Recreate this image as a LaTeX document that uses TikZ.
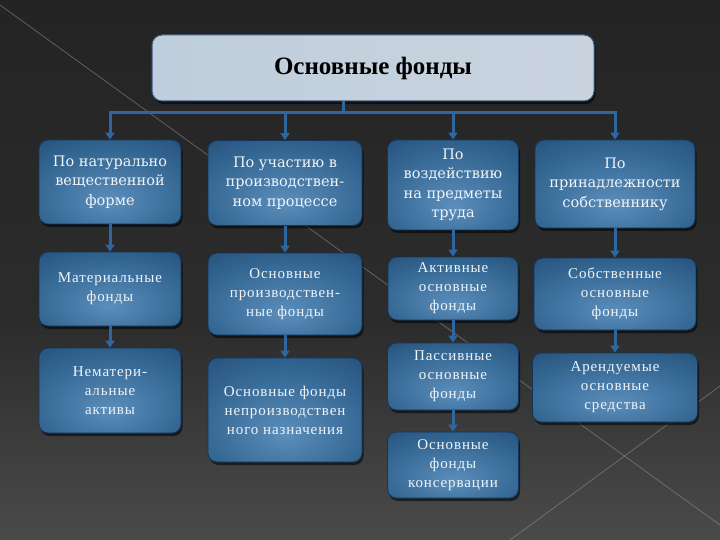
\documentclass[tikz,border=0pt]{standalone}
\usepackage{fontspec}
\setmainfont{Liberation Serif}
\newfontfamily\headfont{DejaVu Serif}
\newfontfamily\lightfont[LetterSpace=6]{Liberation Serif}
\usetikzlibrary{arrows.meta,shadows}
\definecolor{bgtop}{HTML}{1D1D1D}
\definecolor{bgmid}{HTML}{2C2C2C}
\definecolor{bgbot}{HTML}{707070}
\definecolor{boxin}{HTML}{5B8EBB}
\definecolor{boxmid}{HTML}{336591}
\definecolor{boxout}{HTML}{1B416A}
\definecolor{boxedge}{HTML}{14355A}
\definecolor{conn}{HTML}{2E67A0}
\definecolor{txt}{HTML}{F0F4F8}
\definecolor{topl}{HTML}{BFCEDC}
\definecolor{topm}{HTML}{F0F3F7}
\definecolor{topr}{HTML}{C9D4DF}
\definecolor{topedge}{HTML}{3A5C80}
\definecolor{lineg}{HTML}{9A9A9A}
\pgfdeclareverticalshading{bgsh}{100bp}{color(0bp)=(bgbot); color(45bp)=(bgmid); color(100bp)=(bgtop)}
\pgfdeclareradialshading{boxsh}{\pgfpoint{0bp}{-12bp}}{color(0bp)=(boxin); color(28bp)=(boxmid); color(52bp)=(boxout); color(80bp)=(boxout)}
\tikzset{
  bbox/.style={rounded corners=9pt, draw=boxedge, line width=0.8pt, shading=boxsh,
    drop shadow={shadow xshift=1.5pt, shadow yshift=-3pt, opacity=0.55, fill=black},
    align=center, text=txt, inner sep=2pt},
  hrow/.style={bbox, font=\headfont\fontsize{14.5}{19.5}\selectfont},
  lrow/.style={bbox, font=\lightfont\fontsize{15}{19}\selectfont},
  topbox/.style={rounded corners=10pt, draw=topedge, line width=1pt,
    left color=topl, middle color=topm, right color=topr,
    drop shadow={shadow xshift=1.5pt, shadow yshift=-3pt, opacity=0.6, fill=black},
    font=\bfseries\fontsize{25}{30}\selectfont, text=black,
    minimum width=442pt, minimum height=66pt},
  conn/.style={draw=conn, line width=3pt},
  arr/.style={conn, -{Triangle[width=9pt,length=7pt]}},
  bgline/.style={draw=lineg, line width=0.7pt, opacity=0.55}
}
\begin{document}
\begin{tikzpicture}[x=1pt,y=-1pt]
\useasboundingbox (0,0) rectangle (720,540);
\shade[shading=bgsh] (0,0) rectangle (720,540);
\draw[bgline] (0,5) -- (720,525);
\draw[bgline] (720,386) -- (510,540);

\node[topbox] (top) at (373,68) {Основные фонды};

\node[hrow, minimum width=142pt, minimum height=84pt] (A1) at (110,182) {По натурально\\вещественной\\форме};
\node[hrow, minimum width=154pt, minimum height=85pt] (B1) at (285,183) {По участию в\\производствен-\\ном процессе};
\node[hrow, minimum width=131pt, minimum height=90pt] (C1) at (453,185) {По\\воздействию\\на предметы\\труда};
\node[hrow, minimum width=160pt, minimum height=88pt] (D1) at (615,184) {По\\принадлежности\\собственнику};

\node[lrow, minimum width=142pt, minimum height=74pt] (A2) at (110,289) {Материальные\\фонды};
\node[lrow, minimum width=154pt, minimum height=82pt] (B2) at (285,294) {Основные\\производствен-\\ные фонды};
\node[lrow, minimum width=130pt, minimum height=63pt] (C2) at (453,288.5) {Активные\\основные\\фонды};
\node[lrow, minimum width=162pt, minimum height=72pt] (D2) at (615,294) {Собственные\\основные\\фонды};

\node[lrow, minimum width=142pt, minimum height=85pt] (A3) at (110,390.5) {Нематери-\\альные\\активы};
\node[lrow, minimum width=154pt, minimum height=104pt] (B3) at (285,410) {Основные фонды\\непроизводствен\\ного назначения};
\node[lrow, minimum width=131pt, minimum height=67pt] (C3) at (453,376.5) {Пассивные\\основные\\фонды};
\node[lrow, minimum width=165pt, minimum height=69pt] (D3) at (615,387.5) {Арендуемые\\основные\\средства};
\node[lrow, minimum width=131pt, minimum height=66pt] (C4) at (453,465) {Основные\\фонды\\консервации};

\coordinate (bA) at (110,113);
\coordinate (bB) at (285,113);
\coordinate (bC) at (453,113);
\coordinate (bD) at (615,113);
\coordinate (stub) at (343,113);
\draw[conn] (top.south -| stub) -- (stub);
\draw[conn, line cap=rect] (bA) -- (bD);
\draw[arr] (bA) -- (A1);
\draw[arr] (bB) -- (B1);
\draw[arr] (bC) -- (C1);
\draw[arr] (bD) -- (D1);

\draw[arr] (A1) -- (A2);
\draw[arr] (A2) -- (A3);
\draw[arr] (B1) -- (B2);
\draw[arr] (B2) -- (B3);
\draw[arr] (C1) -- (C2);
\draw[arr] (C2) -- (C3);
\draw[arr] (C3) -- (C4);
\draw[arr] (D1) -- (D2);
\draw[arr] (D2) -- (D3);
\end{tikzpicture}
\end{document}
